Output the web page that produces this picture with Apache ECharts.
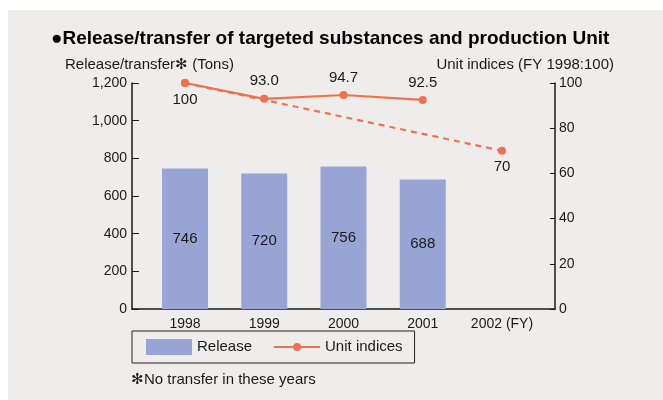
<!DOCTYPE html>
<html>
<head>
<meta charset="utf-8">
<script src="https://cdn.jsdelivr.net/npm/echarts@6/dist/echarts.min.js"></script>
<style>
    html, body { margin: 0; padding: 0; background: #fff; }
    #chart { width: 663px; height: 400px; }
</style>
</head>
<body>
<div id="chart"></div>
<script>
    // data
    var years = ['1998', '1999', '2000', '2001', '2002'];
    var releaseTons = [746, 720, 756, 688, '-'];
    var unitIndices = [100, 93.0, 94.7, 92.5, '-'];
    var unitLabels = ['100', '93.0', '94.7', '92.5', ''];
    var targetLine = [100, '-', '-', '-', 70];
    var leftTicks = [0, 1200, 200];   // min, max, step
    var rightTicks = [0, 100, 20];

    var font = '"Liberation Sans", Arial, Helvetica, sans-serif';
    var ink = '#1a1a1a';
    var barColor = '#98a5d4';
    var lineColor = '#f0714f';
    // line + small dot, drawn in a 46x16 box
    var lineIcon = 'path://M0,7H46V9H0Z M27,8A4,4,0,1,1,19,8A4,4,0,1,1,27,8Z';

    var chart = echarts.init(document.getElementById('chart'));

    var option = {
        animation: false,
        textStyle: { fontFamily: font },
        graphic: [{
            type: 'rect',
            left: 8, top: 10,
            shape: { width: 655, height: 390 },
            style: { fill: '#eeedeb' },
            z: -10
        }],
        title: [
            {
                text: '●Release/transfer of targeted substances and production Unit',
                left: 51, top: 29, padding: 0,
                textStyle: { fontFamily: font, fontSize: 19, fontWeight: 'bold', color: '#000' }
            },
            {
                text: 'Release/transfer✻ (Tons)',
                left: 65, top: 57, padding: 0,
                textStyle: { fontFamily: font, fontSize: 15, fontWeight: 'normal', color: ink }
            },
            {
                text: 'Unit indices (FY 1998:100)',
                right: 49, top: 57, padding: 0,
                textStyle: { fontFamily: font, fontSize: 15, fontWeight: 'normal', color: ink }
            },
            {
                text: '✻No transfer in these years',
                left: 131, top: 372, padding: 0,
                textStyle: { fontFamily: font, fontSize: 15, fontWeight: 'normal', color: ink }
            }
        ],
        legend: {
            left: 132, top: 331,
            padding: [8, 12, 8, 14],
            itemWidth: 46, itemHeight: 16,
            itemGap: 22,
            borderColor: '#222', borderWidth: 1,
            textStyle: { fontSize: 15, color: ink },
            data: [{ name: 'Release', icon: 'rect' }, { name: 'Unit indices', icon: lineIcon }]
        },
        grid: [
            // frame grid: visible axes
            { left: 132, right: 108, top: 83, bottom: 91 },
            // data grid: narrower category band
            { left: 145.4, right: 121.4, top: 83, bottom: 91 }
        ],
        xAxis: [
            {
                type: 'value', gridIndex: 0, min: 0, max: 1,
                axisLine: { lineStyle: { color: ink, width: 1.5 } },
                axisTick: { show: false }, axisLabel: { show: false }, splitLine: { show: false }
            },
            {
                type: 'category', gridIndex: 1, data: years,
                axisLine: { show: false }, axisTick: { show: false },
                axisLabel: {
                    interval: 0, fontSize: 14, color: ink, margin: 8,
                    formatter: function (v, i) { return i === years.length - 1 ? v + ' (FY)' : v; }
                }
            }
        ],
        yAxis: [
            {
                type: 'value', gridIndex: 0, position: 'left',
                min: leftTicks[0], max: leftTicks[1], interval: leftTicks[2],
                axisLine: { show: true, lineStyle: { color: ink, width: 1.5 } },
                axisTick: { show: true, inside: true, length: 7, lineStyle: { color: ink } },
                axisLabel: {
                    fontSize: 14, color: ink, margin: 5,
                    formatter: function (v) { return v.toLocaleString('en-US'); }
                },
                splitLine: { show: false }
            },
            {
                type: 'value', gridIndex: 0, position: 'right',
                min: rightTicks[0], max: rightTicks[1], interval: rightTicks[2],
                axisLine: { show: true, lineStyle: { color: ink, width: 1.5 } },
                axisTick: { show: true, inside: true, length: 5, lineStyle: { color: ink } },
                axisLabel: { fontSize: 14, color: ink, margin: 4 },
                splitLine: { show: false }
            },
            {
                type: 'value', gridIndex: 1, min: leftTicks[0], max: leftTicks[1], show: false
            },
            {
                type: 'value', gridIndex: 1, min: rightTicks[0], max: rightTicks[1], show: false
            }
        ],
        series: [
            {
                name: 'Release', type: 'bar',
                xAxisIndex: 1, yAxisIndex: 2,
                barWidth: 46,
                data: releaseTons,
                itemStyle: { color: barColor },
                label: { show: true, position: 'inside', fontSize: 15, color: ink }
            },
            {
                name: 'Target', type: 'line',
                xAxisIndex: 1, yAxisIndex: 3,
                data: targetLine,
                connectNulls: true,
                symbol: 'circle', symbolSize: 8,
                lineStyle: { color: lineColor, width: 2.2, type: [6, 5] },
                itemStyle: { color: lineColor },
                label: {
                    show: true, position: 'bottom', distance: 5, fontSize: 15, color: ink,
                    formatter: function (p) { return p.dataIndex === 4 ? String(p.value) : ''; }
                },
                z: 3
            },
            {
                name: 'Unit indices', type: 'line',
                xAxisIndex: 1, yAxisIndex: 3,
                data: unitIndices.map(function (v, i) {
                    // first point label sits under the marker
                    return i === 0 ? { value: v, label: { position: 'bottom', distance: 5 } } : v;
                }),
                symbol: 'circle', symbolSize: 8,
                lineStyle: { color: lineColor, width: 2.2 },
                itemStyle: { color: lineColor },
                label: {
                    show: true, fontSize: 15, color: ink, distance: 6,
                    position: 'top',
                    formatter: function (p) { return unitLabels[p.dataIndex]; }
                },
                z: 4
            }
        ]
    };

    chart.setOption(option);
</script>
</body>
</html>
